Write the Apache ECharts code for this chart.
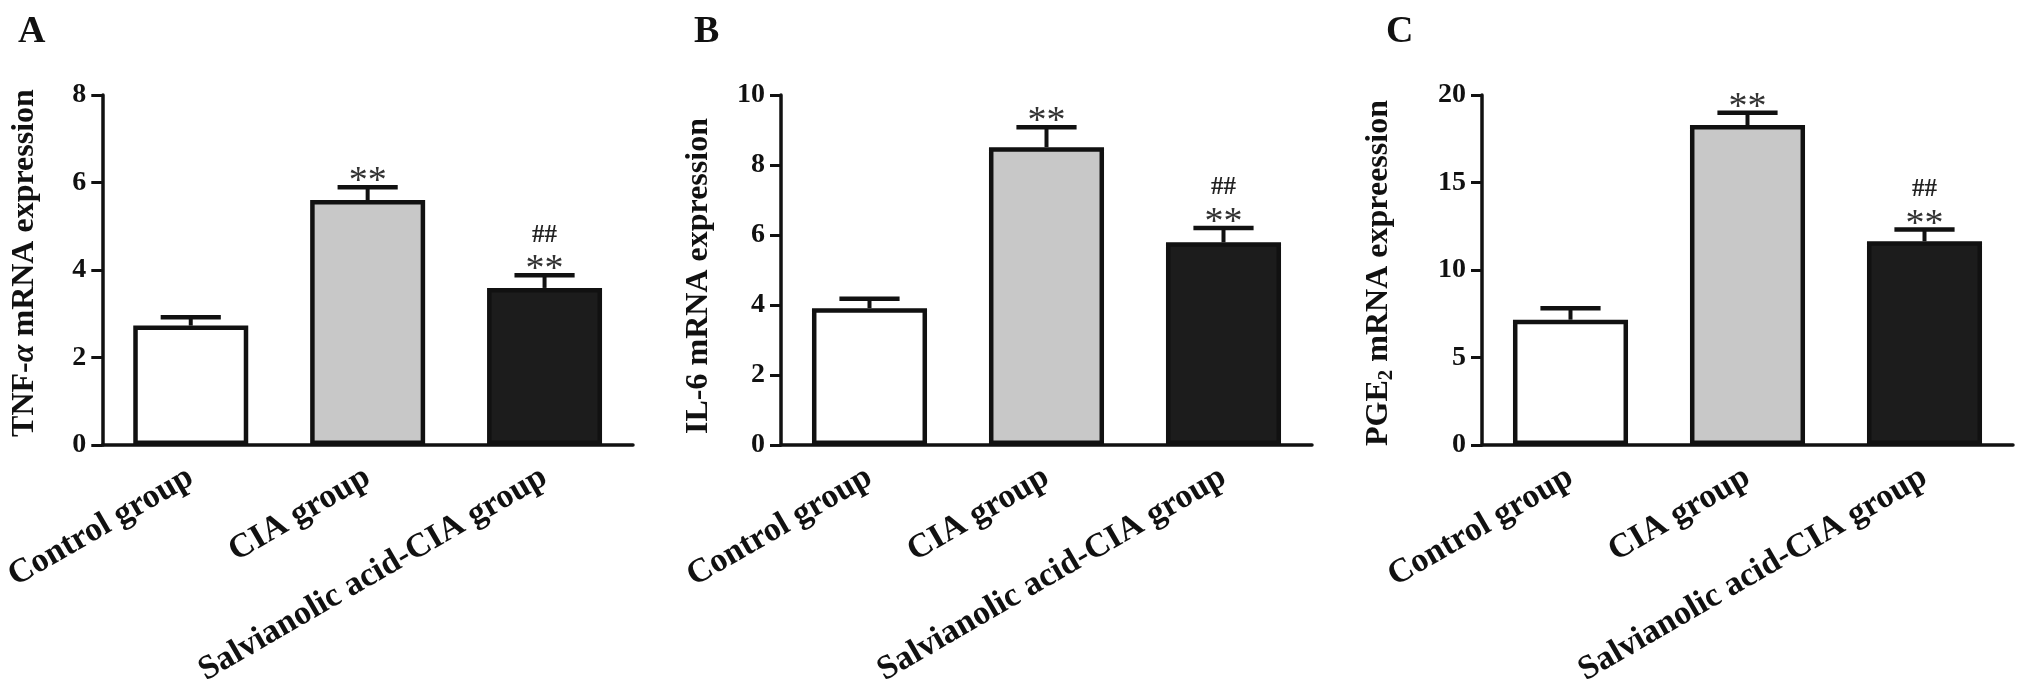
<!DOCTYPE html>
<html>
<head>
<meta charset="utf-8">
<script src="https://cdn.jsdelivr.net/npm/echarts@6/dist/echarts.min.js"></script>
<style>
html,body{margin:0;padding:0;background:#fff;}
#chart{width:2031px;height:698px;}
</style>
</head>
<body>
<div id="chart"></div>
<script>
// ---- data ----
const categories = ['Control group', 'CIA group', 'Salvianolic acid-CIA group'];
const barColors = ['#ffffff', '#c8c8c8', '#1c1c1c'];

const tnfMean = [2.73, 5.60, 3.59];
const tnfErr  = [0.19, 0.29, 0.29];
const il6Mean = [3.91, 8.51, 5.79];
const il6Err  = [0.27, 0.57, 0.41];
const pgeMean = [7.16, 18.28, 11.64];
const pgeErr  = [0.66, 0.71, 0.67];

const starMarks = ['', '**', '**'];
const hashMarks = ['', '', '##'];

const tnfAxis = {max: 8, interval: 2};
const il6Axis = {max: 10, interval: 2};
const pgeAxis = {max: 20, interval: 5};

const panelLetters = ['A', 'B', 'C'];
const yTitles = [
  '{b|TNF-}{i|α}{b| mRNA expression}',
  '{b|IL-6 mRNA expression}',
  '{b|PGE}{s|2}{b| mRNA expreession}'
];

// ---- layout ----
const FONT = "'Liberation Serif', 'Times New Roman', serif";
const grids = [
  {left: 102, width: 531, top: 95, bottom: 253},
  {left: 781, width: 531, top: 95, bottom: 253},
  {left: 1482, width: 531, top: 95, bottom: 253}
];
const nameGaps = [60, 64, 85];
const namePads = [[0, 0, 0, 14], [0, 12, 0, 0], [0, 6, 0, 0]];
const letterLeft = [13, 689, 1381];

const panels = [
  {mean: tnfMean, err: tnfErr, axis: tnfAxis},
  {mean: il6Mean, err: il6Err, axis: il6Axis},
  {mean: pgeMean, err: pgeErr, axis: pgeAxis}
];

const chart = echarts.init(document.getElementById('chart'));

const xAxes = [], yAxes = [], series = [], titles = [];
panels.forEach((p, k) => {
  titles.push({
    text: panelLetters[k], left: letterLeft[k], top: 8,
    textStyle: {fontFamily: FONT, fontWeight: 'bold', fontSize: 38, color: '#111'}
  });
  xAxes.push({
    type: 'category', gridIndex: k, data: categories,
    axisLine: {lineStyle: {color: '#111', width: 3.5}},
    axisTick: {alignWithLabel: true, length: 9, lineStyle: {color: '#111', width: 3}},
    axisLabel: {
      interval: 0, rotate: 30, margin: 30,
      fontFamily: FONT, fontWeight: 'bold', fontSize: 34, color: '#111'
    }
  });
  yAxes.push({
    type: 'value', gridIndex: k, min: 0, max: p.axis.max, interval: p.axis.interval,
    splitLine: {show: false},
    axisLine: {show: true, lineStyle: {color: '#111', width: 3.5}},
    axisTick: {show: true, length: 11, lineStyle: {color: '#111', width: 3}},
    axisLabel: {margin: 16, fontFamily: FONT, fontWeight: 'bold', fontSize: 28, color: '#111'},
    name: yTitles[k], nameLocation: 'middle', nameGap: nameGaps[k], nameRotate: 90,
    nameTextStyle: {
      color: '#111',
      padding: namePads[k],
      rich: {
        b: {fontFamily: FONT, fontWeight: 'bold', fontSize: 32, color: '#111', lineHeight: 36},
        i: {fontFamily: FONT, fontWeight: 'bold', fontStyle: 'italic', fontSize: 32, color: '#111', lineHeight: 36},
        s: {fontFamily: FONT, fontWeight: 'bold', fontSize: 21, color: '#111', lineHeight: 21, verticalAlign: 'bottom'}
      }
    }
  });
  series.push({
    type: 'bar', xAxisIndex: k, yAxisIndex: k, barWidth: '65%',
    data: p.mean.map((v, i) => ({value: v, itemStyle: {color: barColors[i]}})),
    itemStyle: {borderColor: '#111', borderWidth: 4.5},
    z: 2
  });
  series.push({
    type: 'custom', xAxisIndex: k, yAxisIndex: k, z: 3,
    data: p.mean.map((v, i) => [i, v, p.err[i]]),
    renderItem: function (params, api) {
      const idx = api.value(0);
      const m = api.value(1), e = api.value(2);
      const base = api.coord([idx, m]);
      const top = api.coord([idx, m + e]);
      const band = api.size([1, 0])[0];
      const half = band * 0.17;
      const children = [
        {type: 'line', shape: {x1: base[0], y1: base[1], x2: top[0], y2: top[1]},
         style: {stroke: '#111', lineWidth: 4}},
        {type: 'line', shape: {x1: top[0] - half, y1: top[1], x2: top[0] + half, y2: top[1]},
         style: {stroke: '#111', lineWidth: 4.5}}
      ];
      const st = starMarks[params.dataIndex];
      if (st) children.push({type: 'text', x: top[0], y: top[1] - 5,
        style: {text: st, align: 'center', verticalAlign: 'middle',
          font: 'normal 38px ' + FONT, fill: '#333'}});
      const hs = hashMarks[params.dataIndex];
      if (hs) children.push({type: 'text', x: top[0], y: top[1] - 40,
        style: {text: hs, align: 'center', verticalAlign: 'middle',
          font: 'bold 25px ' + FONT, fill: '#222'}});
      return {type: 'group', children: children};
    }
  });
});

chart.setOption({
  animation: false,
  backgroundColor: '#ffffff',
  title: titles,
  grid: grids,
  xAxis: xAxes,
  yAxis: yAxes,
  series: series
});
</script>
</body>
</html>
